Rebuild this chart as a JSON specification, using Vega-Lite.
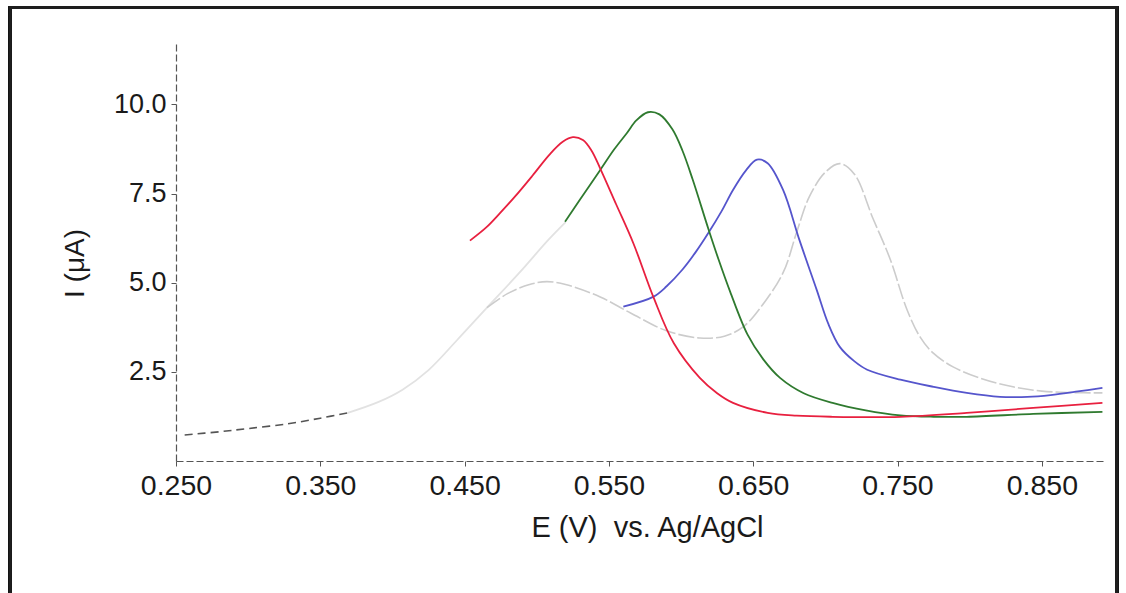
{
  "$schema": "https://vega.github.io/schema/vega-lite/v6.json",
  "autosize": {"type": "none"},
  "width": 927,
  "height": 419,
  "padding": {"left": 176, "top": 42, "right": 23, "bottom": 132},
  "background": "white",
  "config": {
    "view": {"stroke": null},
    "font": "Liberation Sans",
    "axis": {"grid": false, "labelFont": "Liberation Sans", "titleFont": "Liberation Sans", "labelColor": "#1a1a1a", "titleColor": "#1a1a1a", "titleFontWeight": "normal", "domainColor": "#555", "domainDash": [7, 3], "domainWidth": 1.2, "tickColor": "#555", "tickSize": 5, "labelFlush": false, "labelOverlap": false}
  },
  "datasets": {
    "curves": [
      {"s": "dash", "V": 0.256, "I": 0.73}, {"s": "dash", "V": 0.28, "I": 0.82}, {"s": "dash", "V": 0.30, "I": 0.91}, {"s": "dash", "V": 0.327, "I": 1.04}, {"s": "dash", "V": 0.35, "I": 1.2}, {"s": "dash", "V": 0.369, "I": 1.35},
      {"s": "grayA", "V": 0.369, "I": 1.35}, {"s": "grayA", "V": 0.39, "I": 1.65}, {"s": "grayA", "V": 0.407, "I": 2.0}, {"s": "grayA", "V": 0.425, "I": 2.55}, {"s": "grayA", "V": 0.445, "I": 3.4}, {"s": "grayA", "V": 0.4655, "I": 4.3}, {"s": "grayA", "V": 0.488, "I": 5.28}, {"s": "grayA", "V": 0.508, "I": 6.2}, {"s": "grayA", "V": 0.52, "I": 6.7},
      {"s": "grayB", "V": 0.4655, "I": 4.3}, {"s": "grayB", "V": 0.48, "I": 4.7}, {"s": "grayB", "V": 0.495, "I": 4.95}, {"s": "grayB", "V": 0.507, "I": 5.03}, {"s": "grayB", "V": 0.52, "I": 4.95}, {"s": "grayB", "V": 0.544, "I": 4.6}, {"s": "grayB", "V": 0.565, "I": 4.15}, {"s": "grayB", "V": 0.59, "I": 3.65}, {"s": "grayB", "V": 0.613, "I": 3.45}, {"s": "grayB", "V": 0.63, "I": 3.5}, {"s": "grayB", "V": 0.643, "I": 3.76}, {"s": "grayB", "V": 0.655, "I": 4.3}, {"s": "grayB", "V": 0.6707, "I": 5.28}, {"s": "grayB", "V": 0.68, "I": 6.4}, {"s": "grayB", "V": 0.689, "I": 7.42}, {"s": "grayB", "V": 0.70, "I": 8.1}, {"s": "grayB", "V": 0.71, "I": 8.34}, {"s": "grayB", "V": 0.72, "I": 8.05}, {"s": "grayB", "V": 0.733, "I": 6.8}, {"s": "grayB", "V": 0.745, "I": 5.65}, {"s": "grayB", "V": 0.7566, "I": 4.24}, {"s": "grayB", "V": 0.7656, "I": 3.48}, {"s": "grayB", "V": 0.7746, "I": 3.03}, {"s": "grayB", "V": 0.7885, "I": 2.64}, {"s": "grayB", "V": 0.809, "I": 2.3}, {"s": "grayB", "V": 0.83, "I": 2.08}, {"s": "grayB", "V": 0.85, "I": 1.96}, {"s": "grayB", "V": 0.87, "I": 1.92}, {"s": "grayB", "V": 0.892, "I": 1.91},
      {"s": "red", "V": 0.4537, "I": 6.18}, {"s": "red", "V": 0.465, "I": 6.55}, {"s": "red", "V": 0.4745, "I": 6.95}, {"s": "red", "V": 0.485, "I": 7.42}, {"s": "red", "V": 0.497, "I": 8.0}, {"s": "red", "V": 0.509, "I": 8.6}, {"s": "red", "V": 0.518, "I": 8.95}, {"s": "red", "V": 0.525, "I": 9.08}, {"s": "red", "V": 0.532, "I": 9.0}, {"s": "red", "V": 0.538, "I": 8.7}, {"s": "red", "V": 0.544, "I": 8.2}, {"s": "red", "V": 0.555, "I": 7.2}, {"s": "red", "V": 0.567, "I": 6.1}, {"s": "red", "V": 0.581, "I": 4.58}, {"s": "red", "V": 0.595, "I": 3.3}, {"s": "red", "V": 0.613, "I": 2.33}, {"s": "red", "V": 0.625, "I": 1.9}, {"s": "red", "V": 0.636, "I": 1.63}, {"s": "red", "V": 0.66, "I": 1.35}, {"s": "red", "V": 0.68, "I": 1.27}, {"s": "red", "V": 0.705, "I": 1.24}, {"s": "red", "V": 0.752, "I": 1.24}, {"s": "red", "V": 0.798, "I": 1.35}, {"s": "red", "V": 0.844, "I": 1.49}, {"s": "red", "V": 0.892, "I": 1.63},
      {"s": "green", "V": 0.5196, "I": 6.71}, {"s": "green", "V": 0.53, "I": 7.33}, {"s": "green", "V": 0.544, "I": 8.16}, {"s": "green", "V": 0.5537, "I": 8.74}, {"s": "green", "V": 0.5625, "I": 9.2}, {"s": "green", "V": 0.569, "I": 9.55}, {"s": "green", "V": 0.577, "I": 9.78}, {"s": "green", "V": 0.585, "I": 9.72}, {"s": "green", "V": 0.594, "I": 9.3}, {"s": "green", "V": 0.601, "I": 8.7}, {"s": "green", "V": 0.608, "I": 7.9}, {"s": "green", "V": 0.619, "I": 6.5}, {"s": "green", "V": 0.626, "I": 5.65}, {"s": "green", "V": 0.634, "I": 4.75}, {"s": "green", "V": 0.646, "I": 3.55}, {"s": "green", "V": 0.657, "I": 2.85}, {"s": "green", "V": 0.6686, "I": 2.33}, {"s": "green", "V": 0.685, "I": 1.9}, {"s": "green", "V": 0.705, "I": 1.63}, {"s": "green", "V": 0.728, "I": 1.42}, {"s": "green", "V": 0.752, "I": 1.28}, {"s": "green", "V": 0.775, "I": 1.24}, {"s": "green", "V": 0.798, "I": 1.24}, {"s": "green", "V": 0.844, "I": 1.32}, {"s": "green", "V": 0.892, "I": 1.38},
      {"s": "blue", "V": 0.56, "I": 4.33}, {"s": "blue", "V": 0.581, "I": 4.61}, {"s": "blue", "V": 0.59, "I": 4.9}, {"s": "blue", "V": 0.601, "I": 5.37}, {"s": "blue", "V": 0.61, "I": 5.85}, {"s": "blue", "V": 0.619, "I": 6.4}, {"s": "blue", "V": 0.628, "I": 7.0}, {"s": "blue", "V": 0.636, "I": 7.6}, {"s": "blue", "V": 0.645, "I": 8.15}, {"s": "blue", "V": 0.6526, "I": 8.45}, {"s": "blue", "V": 0.66, "I": 8.35}, {"s": "blue", "V": 0.6707, "I": 7.6}, {"s": "blue", "V": 0.682, "I": 6.2}, {"s": "blue", "V": 0.694, "I": 4.8}, {"s": "blue", "V": 0.702, "I": 3.85}, {"s": "blue", "V": 0.71, "I": 3.2}, {"s": "blue", "V": 0.72, "I": 2.8}, {"s": "blue", "V": 0.729, "I": 2.56}, {"s": "blue", "V": 0.752, "I": 2.28}, {"s": "blue", "V": 0.775, "I": 2.08}, {"s": "blue", "V": 0.798, "I": 1.91}, {"s": "blue", "V": 0.821, "I": 1.8}, {"s": "blue", "V": 0.84, "I": 1.8}, {"s": "blue", "V": 0.856, "I": 1.85}, {"s": "blue", "V": 0.875, "I": 1.95}, {"s": "blue", "V": 0.892, "I": 2.05}
    ]
  },
  "data": {"name": "curves"},
  "encoding": {
    "x": {"field": "V", "type": "quantitative", "scale": {"domain": [0.25, 0.8924], "nice": false, "zero": false},
      "axis": {"values": [0.25, 0.35, 0.45, 0.55, 0.65, 0.75, 0.85], "format": ".3f", "labelFontSize": 28.5, "labelPadding": 5, "title": "E (V)\u00a0\u00a0vs. Ag/AgCl", "titleFontSize": 29, "titlePadding": 14, "titleX": 471}},
    "y": {"field": "I", "type": "quantitative", "scale": {"domain": [0, 11.75], "nice": false},
      "axis": {"values": [2.5, 5, 7.5, 10], "format": ".1f", "labelFontSize": 27, "labelPadding": 5, "title": "I (μA)", "titleFontSize": 28, "titlePadding": 24, "titleY": 221}}
  },
  "layer": [
    {"transform": [{"filter": "datum.s === 'grayA'"}], "mark": {"type": "line", "color": "#e2e2e2", "strokeWidth": 1.8, "interpolate": "catmull-rom"}},
    {"transform": [{"filter": "datum.s === 'grayB'"}], "mark": {"type": "line", "color": "#cccccc", "strokeWidth": 1.6, "strokeDash": [16, 3], "interpolate": "catmull-rom"}},
    {"transform": [{"filter": "datum.s === 'dash'"}], "mark": {"type": "line", "color": "#555555", "strokeWidth": 1.6, "strokeDash": [8, 5], "interpolate": "catmull-rom"}},
    {"transform": [{"filter": "datum.s === 'blue'"}], "mark": {"type": "line", "color": "#5555cc", "strokeWidth": 1.8, "interpolate": "catmull-rom"}},
    {"transform": [{"filter": "datum.s === 'green'"}], "mark": {"type": "line", "color": "#2f7a2f", "strokeWidth": 1.8, "interpolate": "catmull-rom"}},
    {"transform": [{"filter": "datum.s === 'red'"}], "mark": {"type": "line", "color": "#e8203f", "strokeWidth": 1.8, "interpolate": "catmull-rom"}},
    {"mark": {"type": "rect", "fillOpacity": 0, "stroke": "#1e1e1e", "strokeWidth": 2.2},
      "encoding": {"x": {"datum": 0.135}, "x2": {"datum": 0.9021}, "y": {"datum": 12.72}, "y2": {"datum": -4.5}}}
  ]
}
